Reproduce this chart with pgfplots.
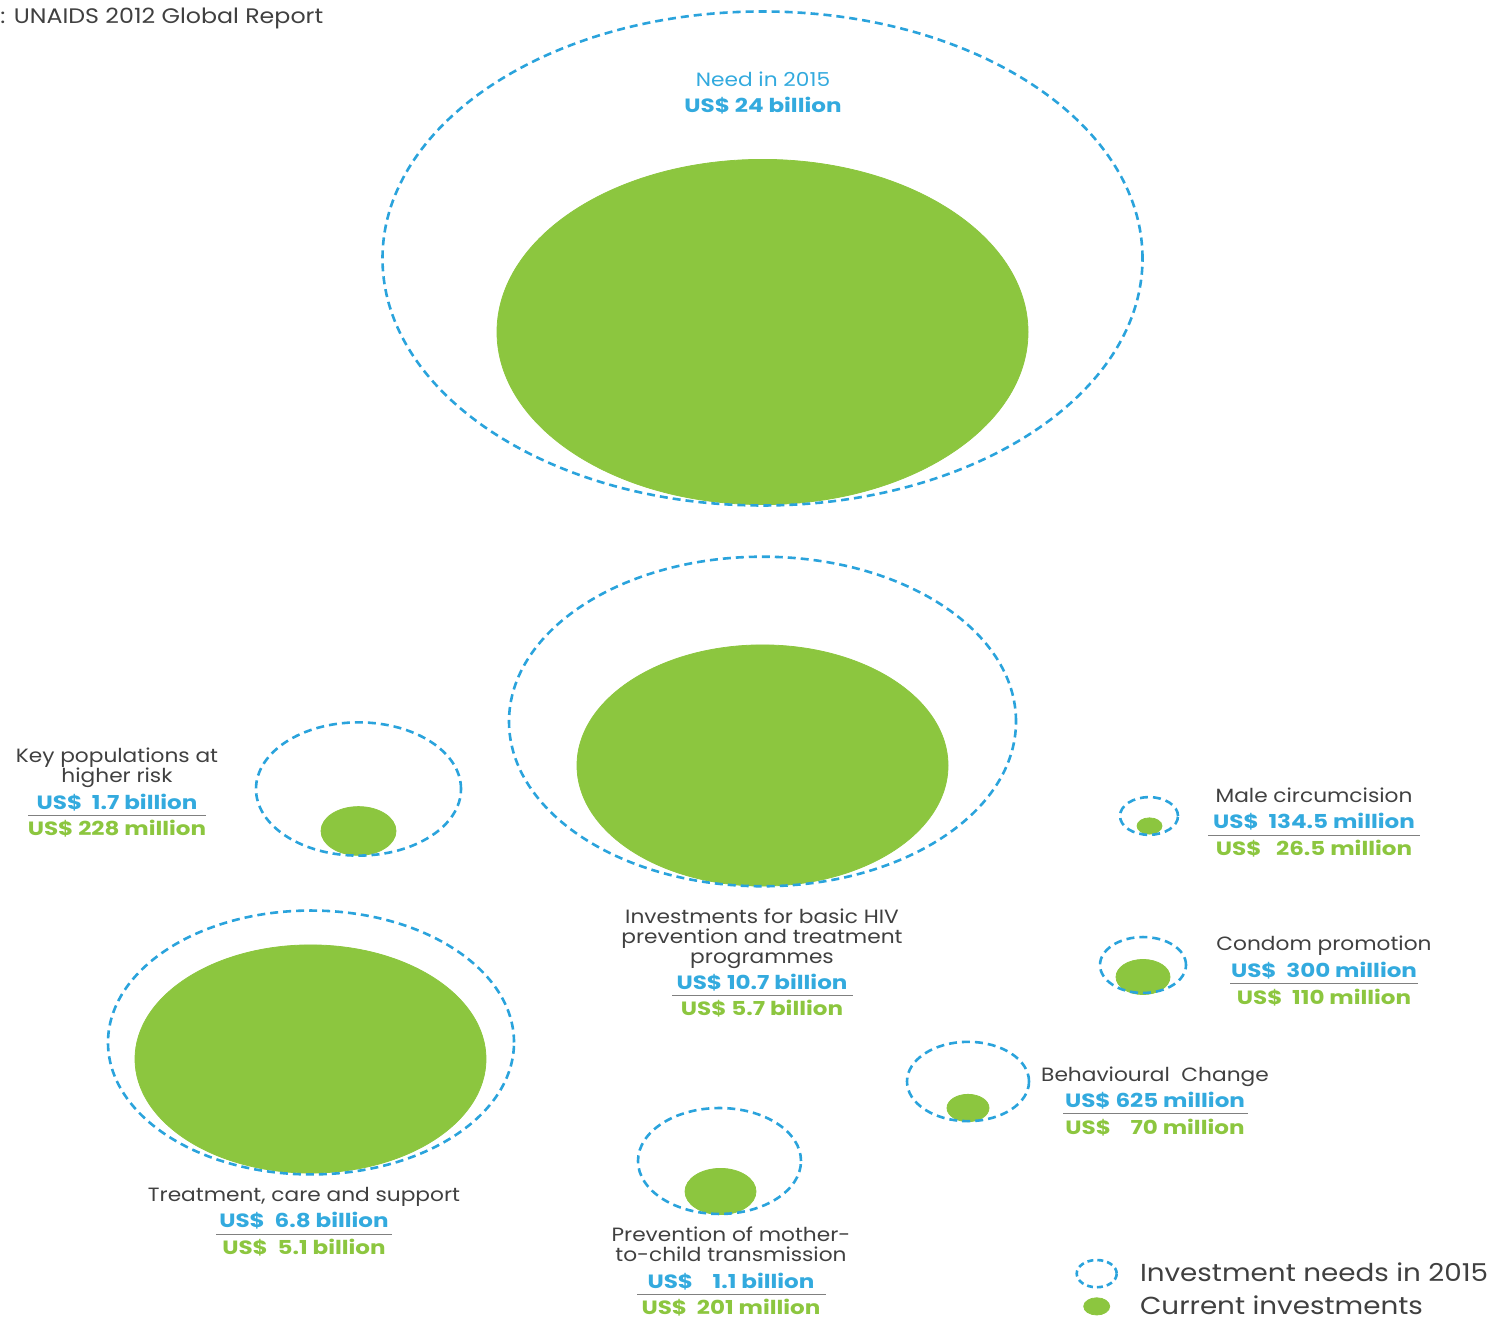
\documentclass[border=0pt]{standalone}
\usepackage{pgfplots}
\pgfplotsset{compat=1.18}
\usepackage{pgfplotstable}
\usepackage{fontspec}
\setmainfont{Poppins}[FakeStretch=1.13, BoldFeatures={FakeStretch=1.2}]
\definecolor{needblue}{HTML}{2AA3DC}
\definecolor{valblue}{HTML}{33AADE}
\definecolor{curgreen}{HTML}{8CC63F}
\definecolor{valgreen}{HTML}{8CC63F}
\definecolor{txtgray}{HTML}{404040}

% centre x, centre y, horizontal radius r (reference pixels, y upwards)
\pgfplotstableread{
x      y       r
762.5  1061.5  380
762.5  598.5   253.5
358.5  531     102.5
1149   504     29
1143   355     43
968    238.5   61
311    277.5   203
719.5  159     81.5
}\needs
\pgfplotstableread{
x      y       r
762.5  988     265.5
762.5  554.5   185.5
358.5  489     37.5
1149.5 494     12.5
1143   343     27
968    212     21
310.5  261     175.5
720.5  128.5   35.5
}\current

\begin{document}
\begin{tikzpicture}
\begin{axis}[
  x=0.5pt, y=0.5pt,
  xmin=0, xmax=1492, ymin=0, ymax=1320,
  axis line style={draw=none}, ticks=none,
  clip=false,
  legend style={at={(axis cs:1075,31)}, anchor=west, draw=none, fill=none,
    inner sep=0pt, nodes={inner sep=1pt},
    font=\fontsize{12.3}{15}\selectfont, text=txtgray, row sep=2.5pt,
    /tikz/every odd column/.append style={column sep=10pt}},
  legend cell align=left,
]
\addplot[forget plot, scatter, only marks, mark=*,
  scatter/use mapped color={draw=curgreen, fill=curgreen},
  visualization depends on={0.5*\thisrow{r} \as \rad},
  scatter/@pre marker code/.append style={/tikz/mark size=\rad},
  mark options={yscale=0.65},
] table[x=x, y=y] {\current};
\addplot[forget plot, scatter, only marks, mark=o,
  scatter/use mapped color={draw=needblue, fill=none},
  visualization depends on={0.5*\thisrow{r} \as \rad},
  scatter/@pre marker code/.append style={/tikz/mark size=\rad},
  mark options={yscale=0.65, line width=1.3pt, dash pattern=on 4pt off 2.5pt},
] table[x=x, y=y] {\needs};
\addlegendimage{legend image code/.code={\draw[needblue, line width=1.3pt, dash pattern=on 3pt off 2pt] (0.3cm,0) ellipse [x radius=10pt, y radius=6.8pt];}}
\addlegendentry{Investment needs in 2015}
\addlegendimage{legend image code/.code={\fill[curgreen] (0.3cm,0) ellipse [x radius=6.5pt, y radius=4.3pt];}}
\addlegendentry{Current investments}

\begin{scope}[every node/.style={font=\fontsize{9.6}{11}\selectfont, inner sep=0pt, anchor=base, yshift=-3.3pt}]
\node[anchor=west, yshift=3.3pt, text=txtgray, font=\fontsize{10.5}{12}\selectfont] at (axis cs:0,1302) {: UNAIDS 2012 Global Report};

\node[text=valblue] at (axis cs:763,1240) {Need in 2015};
\node[text=valblue, font=\fontsize{9.6}{11}\bfseries] at (axis cs:763,1214) {US\$ 24 billion};
\node[text=white] at (axis cs:760,1002) {Current HIV investments};
\node[text=white, font=\fontsize{9.6}{11}\bfseries] at (axis cs:760,976) {US\$ 16.8 billion};

\node[text=txtgray] at (axis cs:117,564) {Key populations at};
\node[text=txtgray] at (axis cs:117,544) {higher risk};
\node[text=valblue, font=\fontsize{9.6}{11}\bfseries] at (axis cs:117,517) {US\$~~1.7 billion};
\draw[gray, line width=0.5pt] (axis cs:28,504) -- (axis cs:206,504);
\node[text=valgreen, font=\fontsize{9.6}{11}\bfseries] at (axis cs:117,491) {US\$ 228 million};

\node[text=txtgray] at (axis cs:762,403) {Investments for basic HIV};
\node[text=txtgray] at (axis cs:762,383) {prevention and treatment};
\node[text=txtgray] at (axis cs:762,363) {programmes};
\node[text=valblue, font=\fontsize{9.6}{11}\bfseries] at (axis cs:762,337) {US\$ 10.7 billion};
\draw[gray, line width=0.5pt] (axis cs:672,324) -- (axis cs:853,324);
\node[text=valgreen, font=\fontsize{9.6}{11}\bfseries] at (axis cs:762,311) {US\$ 5.7 billion};

\node[text=txtgray] at (axis cs:1314,524) {Male circumcision};
\node[text=valblue, font=\fontsize{9.6}{11}\bfseries] at (axis cs:1314,498) {US\$~~134.5 million};
\draw[gray, line width=0.5pt] (axis cs:1208,484) -- (axis cs:1420,484);
\node[text=valgreen, font=\fontsize{9.6}{11}\bfseries] at (axis cs:1314,471) {US\$~~~26.5 million};

\node[text=txtgray] at (axis cs:1324,376) {Condom promotion};
\node[text=valblue, font=\fontsize{9.6}{11}\bfseries] at (axis cs:1324,349) {US\$~~300 million};
\draw[gray, line width=0.5pt] (axis cs:1230,336) -- (axis cs:1418,336);
\node[text=valgreen, font=\fontsize{9.6}{11}\bfseries] at (axis cs:1324,322) {US\$~~110 million};

\node[text=txtgray] at (axis cs:1155,245) {Behavioural~~Change};
\node[text=valblue, font=\fontsize{9.6}{11}\bfseries] at (axis cs:1155,219) {US\$ 625 million};
\draw[gray, line width=0.5pt] (axis cs:1063,206) -- (axis cs:1248,206);
\node[text=valgreen, font=\fontsize{9.6}{11}\bfseries] at (axis cs:1155,192) {US\$~~~~70 million};

\node[text=txtgray] at (axis cs:304,125) {Treatment, care and support};
\node[text=valblue, font=\fontsize{9.6}{11}\bfseries] at (axis cs:304,99) {US\$~~6.8 billion};
\draw[gray, line width=0.5pt] (axis cs:216,85) -- (axis cs:392,85);
\node[text=valgreen, font=\fontsize{9.6}{11}\bfseries] at (axis cs:304,72) {US\$~~5.1 billion};

\node[text=txtgray] at (axis cs:731,85) {Prevention of mother-};
\node[text=txtgray] at (axis cs:731,65) {to-child transmission};
\node[text=valblue, font=\fontsize{9.6}{11}\bfseries] at (axis cs:731,38) {US\$~~~~1.1 billion};
\draw[gray, line width=0.5pt] (axis cs:637,25) -- (axis cs:826,25);
\node[text=valgreen, font=\fontsize{9.6}{11}\bfseries] at (axis cs:731,12) {US\$~~201 million};
\end{scope}
\end{axis}
\end{tikzpicture}
\end{document}
